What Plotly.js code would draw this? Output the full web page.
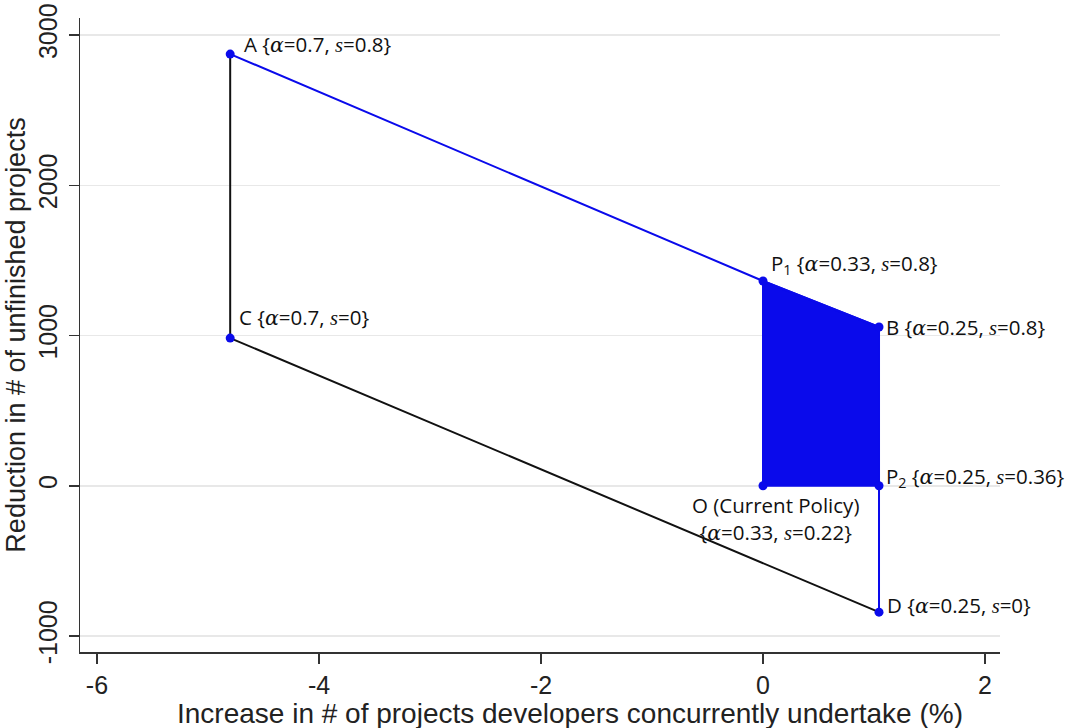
<!DOCTYPE html>
<html><head><meta charset="utf-8">
<script src="https://cdn.plot.ly/plotly-3.0.1.min.js"></script>
<style>body{margin:0;background:#fff}#chart{width:1070px;height:728px}</style>
</head><body><div id="chart"></div>
<script>
// Corner points of the policy region
const pointNames = ["A", "P1", "B", "P2", "O", "C", "D"];
const pointX = [-4.80, 0, 1.045, 1.045, 0, -4.80, 1.045];
const pointY = [2873, 1363, 1057, 0, 0, 983, -841];
const pointLabels = [
  "A {α=0.7, s=0.8}",
  "P1 {α=0.33, s=0.8}",
  "B {α=0.25, s=0.8}",
  "P2 {α=0.25, s=0.36}",
  "O (Current Policy)<br>{α=0.33, s=0.22}",
  "C {α=0.7, s=0}",
  "D {α=0.25, s=0}"
];
const xTicks = [-6, -4, -2, 0, 2];
const yTicks = [-1000, 0, 1000, 2000, 3000];
const xTitle = "Increase in # of projects developers concurrently undertake (%)";
const yTitle = "Reduction in # of unfinished projects";

const idx = n => pointNames.indexOf(n);
const pick = (names, arr) => names.map(n => arr[idx(n)]);

const blue = "rgb(10,10,235)";
const serif = s => s.replace(/α/g, '<span style="font-family:\'DejaVu Serif\';font-style:italic">α</span>')
                    .replace(/s=/g, '<span style="font-family:\'Liberation Serif\';font-style:italic">s</span>=')
                    .replace(/P(\d)/, 'P<sub>$1</sub>');

const fillNames = ["O", "P1", "B", "P2", "O"];
const blueLine = ["A", "P1", "B", "D"];
const blackLine = ["A", "C", "D"];

const traces = [
  {x: pick(fillNames, pointX), y: pick(fillNames, pointY), mode: "lines", fill: "toself",
   fillcolor: blue, line: {color: blue, width: 2}, hoverinfo: "skip"},
  {x: pick(blackLine, pointX), y: pick(blackLine, pointY), mode: "lines",
   line: {color: "#111", width: 2}},
  {x: pick(blueLine, pointX), y: pick(blueLine, pointY), mode: "lines",
   line: {color: blue, width: 2}},
  {x: pointX, y: pointY, mode: "markers", marker: {color: blue, size: 9}}
];

const shifts = {A:[12,10,"left"], P1:[6,17,"left"], B:[5,0,"left"], P2:[5,9,"left"],
                O:[12,-33,"center"], C:[7,21,"left"], D:[6,7,"left"]};
const annotations = pointNames.map((n, i) => ({
  x: pointX[i], y: pointY[i], xref: "x", yref: "y", text: serif(pointLabels[i]),
  showarrow: false, xanchor: shifts[n][2], yanchor: "middle",
  xshift: shifts[n][0], yshift: shifts[n][1],
  font: {family: "'Open Sans', sans-serif", size: 20.5, color: "#111"}
}));
annotations.push({
  text: xTitle, xref: "paper", yref: "paper", x: 0.533, y: -0.097,
  xanchor: "center", yanchor: "middle", showarrow: false,
  font: {family: "'Liberation Sans', Arial, sans-serif", size: 28, color: "#222"}
});

const layout = {
  width: 1070, height: 728,
  margin: {l: 80, r: 70, t: 18, b: 76},
  paper_bgcolor: "#fff", plot_bgcolor: "#fff",
  showlegend: false,
  font: {family: "'Liberation Sans', Arial, sans-serif", color: "#222"},
  xaxis: {range: [-6.153, 2.135], tickvals: xTicks, ticktext: xTicks.map(String),
    showgrid: false, zeroline: false, showline: true, linecolor: "#333", linewidth: 1.5,
    ticks: "outside", ticklen: 10, tickcolor: "#333", tickwidth: 1.5,
    tickfont: {size: 25, color: "#222"}},
  yaxis: {range: [-1106, 3113], tickvals: yTicks, ticktext: yTicks.map(String),
    showgrid: true, gridcolor: "#e8e8e8", gridwidth: 1.5, zeroline: false,
    showline: true, linecolor: "#333", linewidth: 1.5,
    ticks: "outside", ticklen: 10, tickcolor: "#333", tickwidth: 1.5, tickangle: -90,
    ticklabelstandoff: 2,
    tickfont: {size: 25, color: "#222"},
    title: {text: yTitle, font: {size: 27, color: "#222"}, standoff: 0}},
  annotations: annotations
};
Plotly.newPlot("chart", traces, layout, {staticPlot: true});
</script></body></html>
